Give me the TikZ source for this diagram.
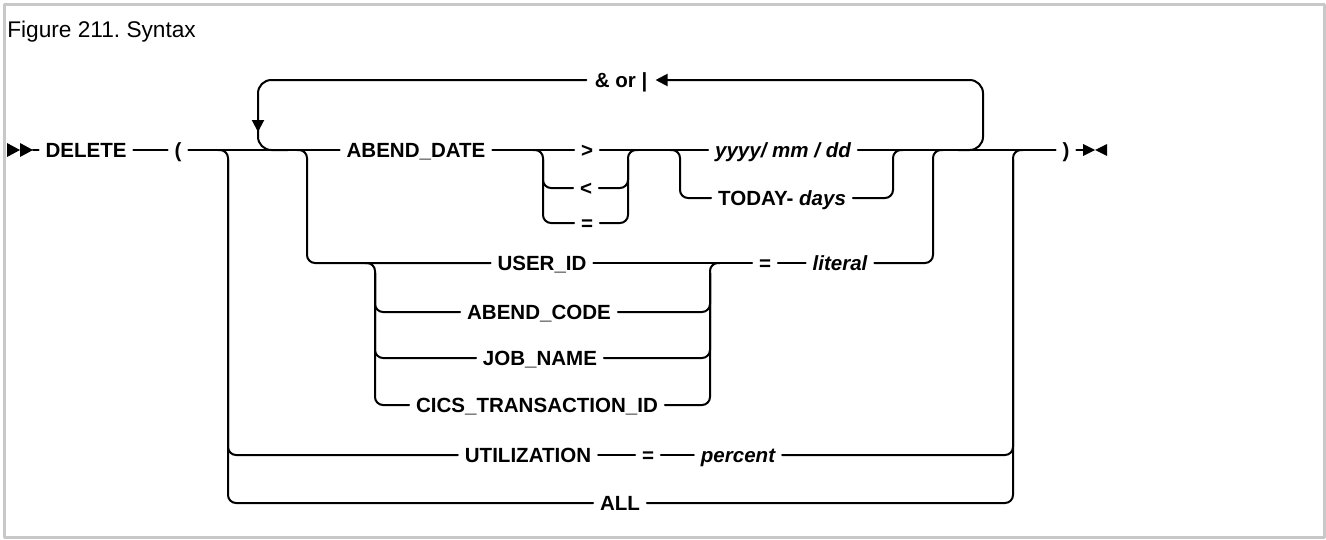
\documentclass[tikz,border=0pt]{standalone}
\usepackage{fontspec}
\setmainfont{Liberation Sans}
\usetikzlibrary{arrows.meta,calc}

\newcommand\kwfont{\fontsize{15.4pt}{18pt}\selectfont\bfseries}
\newcommand\titlefont{\fontsize{17pt}{20pt}\selectfont}

\begin{document}
\begin{tikzpicture}[x=0.75pt,y=-0.75pt,line cap=round,line join=round]
  % ----- styles & colors -----
  \definecolor{framegray}{RGB}{200,200,200}
  \tikzset{
    rr/.style={draw=black,line width=1.5pt},
    rc/.style={rr,rounded corners=6pt},
    loopline/.style={rr,rounded corners=10pt},
    tip/.style={-{Triangle[length=9pt,width=9pt]}},
    kw/.style={font=\kwfont,inner xsep=5pt,inner ysep=0pt,text height=11pt,text depth=0pt},
    var/.style={kw,font=\kwfont\itshape}
  }
  \useasboundingbox (0,0) rectangle (1326,539);

  % frame and title
  \draw[draw=framegray,line width=2.25pt] (4.5,4) rectangle (1324.5,537.5);
  \node[font=\titlefont,anchor=base west,inner sep=0pt] (title) at (7,37) {Figure 211.\ Syntax};

  % ----- geometry -----
  \coordinate (start) at (33,150);   % after the start marker
  \coordinate (endm) at (1085,150);  % before the end marker
  \coordinate (sA) at (228,150);     % UTILIZATION / ALL
  \coordinate (jA) at (1013,150);
  \coordinate (sB) at (307,150);     % USER_ID group
  \coordinate (jB) at (933,150);
  \coordinate (sC) at (543,150);     % > < =
  \coordinate (jC) at (628,150);
  \coordinate (sD) at (680,150);     % TODAY- days
  \coordinate (jD) at (893,150);
  \coordinate (sE) at (375,263);     % keyword choice
  \coordinate (jE) at (710,263);
  \coordinate (lpL) at (258,80);     % repeat loop
  \coordinate (lpR) at (983,80);
  \coordinate (lpIn) at (258,132);

  % ----- texts -----
  \node[kw] (del) at (86,150) {DELETE};
  \node[kw] (lpar) at (178,150) {(};
  \node[kw] (abd) at (416,150) {ABEND\_DATE};
  \node[kw] (gt) at (587,150) {>};
  \node[kw] (lt) at (586,188) {<};
  \node[kw] (eqa) at (587,223) {=};
  \node[var] (ymd) at (783,150) {yyyy/ mm / dd};
  \node[kw] (today) at (782,198) {TODAY-\ \textit{days}};
  \node[kw,inner xsep=6pt] (andor) at (621,80) {\& or |};
  \node[kw] (uid) at (542,263) {USER\_ID};
  \node[kw] (acode) at (539,312) {ABEND\_CODE};
  \node[kw] (job) at (540,358) {JOB\_NAME};
  \node[kw] (cics) at (537,405) {CICS\_TRANSACTION\_ID};
  \node[kw] (eqb) at (765,263) {=};
  \node[var] (lit) at (840,263) {literal};
  \node[kw] (util) at (528,455) {UTILIZATION};
  \node[kw] (eqc) at (648,455) {=};
  \node[var] (pct) at (738,455) {percent};
  \node[kw] (all) at (620,503) {ALL};
  \node[kw] (rpar) at (1066,150) {)};

  % start and end markers
  \fill (7,143) -- (20,150) -- (7,157) -- cycle;
  \fill (20,143) -- (33,150) -- (20,157) -- cycle;
  \fill (1083,144) -- (1095,150) -- (1083,156) -- cycle;
  \fill (1107,144) -- (1095,150) -- (1107,156) -- cycle;

  % ----- main line -----
  \draw[rr] (start) -- (del.west);
  \draw[rr] (del.east) -- (lpar.west);
  \draw[rr] (lpar.east) -- (abd.west);
  \draw[rr] (abd.east) -- (gt.west);
  \draw[rr] (gt.east) -- (ymd.west);
  \draw[rr] (ymd.east) -- (rpar.west);
  \draw[rr] (rpar.east) -- (endm);

  % repeat loop
  \draw[loopline,tip] ($(lpR)+(-25,70)$) -| (lpR) -- (andor.east);
  \draw[loopline,tip] (andor.west) -| (lpIn);
  \draw[loopline] ($(lpIn)+(0,-6)$) |- ($(lpIn)+(30,18)$);

  % > < =
  \draw[rc] ($(sC)+(-10,0)$) -- (sC) |- (eqa.west);
  \draw[rc] ($(sC)+(0,10)$) |- (lt.west);
  \draw[rc] (eqa.east) -| (jC) -- ++(10,0);
  \draw[rc] (lt.east) -| ($(jC)+(0,10)$);

  % TODAY- days
  \draw[rc] ($(sD)+(-10,0)$) -- (sD) |- (today.west);
  \draw[rc] (today.east) -| (jD) -- ++(10,0);

  % USER_ID group
  \draw[rc] ($(sB)+(-10,0)$) -- (sB) |- (uid.west);
  \draw[rc] ($(sE)+(-10,0)$) -- (sE) |- (cics.west);
  \draw[rc] ($(sE)+(0,10)$) |- (acode.west);
  \draw[rc] ($(sE)+(0,10)$) |- (job.west);
  \draw[rc] (cics.east) -| (jE) -- ++(10,0);
  \draw[rc] (acode.east) -| ($(jE)+(0,10)$);
  \draw[rc] (job.east) -| ($(jE)+(0,10)$);
  \draw[rr] (uid.east) -- (eqb.west);
  \draw[rr] (eqb.east) -- (lit.west);
  \draw[rc] (lit.east) -| (jB) -- ++(10,0);

  % UTILIZATION / ALL
  \draw[rc] ($(sA)+(-10,0)$) -- (sA) |- (all.west);
  \draw[rc] ($(sA)+(0,10)$) |- (util.west);
  \draw[rr] (util.east) -- (eqc.west);
  \draw[rr] (eqc.east) -- (pct.west);
  \draw[rc] (pct.east) -| ($(jA)+(0,10)$);
  \draw[rc] (all.east) -| (jA) -- ++(10,0);

\end{tikzpicture}
\end{document}
